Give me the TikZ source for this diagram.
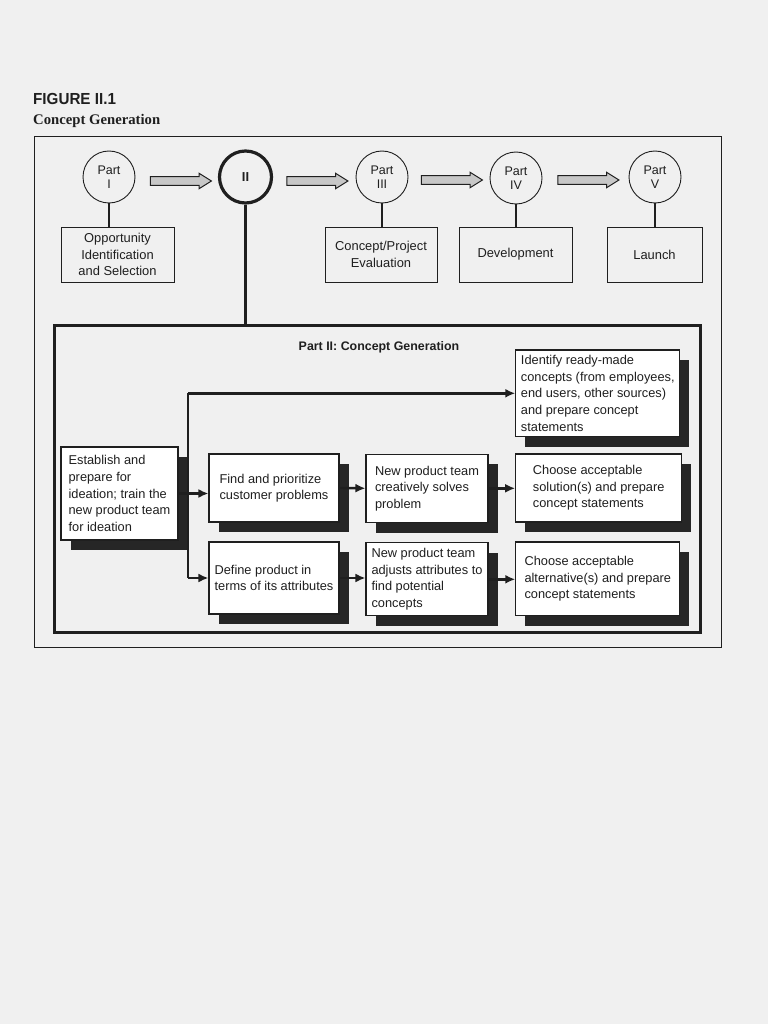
\documentclass[tikz,border=0pt]{standalone}
\usepackage{fontspec}
\setmainfont{Liberation Serif}
\setsansfont{Liberation Sans}
\usetikzlibrary{shapes.arrows,shadows,arrows.meta,calc}
\definecolor{ink}{gray}{0.12}
\begin{document}
\begin{tikzpicture}[x=1pt,y=-1pt,
  every node/.style={text=ink},
  part/.style={circle,draw=ink,line width=0.9pt,minimum size=52pt,inner sep=0pt,align=center,
     font=\sffamily\fontsize{12.5}{14.5}\selectfont},
  partbold/.style={part,line width=3.2pt,font=\sffamily\bfseries\fontsize{13}{14}\selectfont},
  topbox/.style={rectangle,draw=ink,line width=0.9pt,inner sep=0pt,align=center,
     font=\sffamily\fontsize{12.9}{16.3}\selectfont},
  stem/.style={draw=ink,line width=2.6pt},
  blockarr/.style={single arrow,draw=ink,line width=1pt,fill=black!22,inner sep=3.8pt,
     minimum height=61pt,single arrow head extend=3.4pt,single arrow tip angle=64,
     single arrow head indent=0pt},
  fbox/.style={rectangle,draw=ink,line width=1.1pt,fill=white,inner sep=0pt,align=left,
     font=\sffamily\fontsize{12.8}{16.6}\selectfont,
     general shadow={fill=black!85,shadow xshift=9.5pt,shadow yshift=-10pt}},
  conn/.style={draw=ink,line width=2.4pt},
  arr/.style={conn,-{Latex[length=10pt,width=9pt]}}]
\useasboundingbox[fill=black!6] (0,0) rectangle (768,1024);

% titles
\node[anchor=base west,inner sep=0pt,font=\sffamily\bfseries\fontsize{16}{16}\selectfont,xscale=0.95] (fig) at (33,105) {FIGURE II.1};
\node[anchor=base west,inner sep=0pt,font=\rmfamily\bfseries\fontsize{14.7}{16}\selectfont] (cg) at (33,125) {Concept Generation};

% outer frame
\node[draw=ink,line width=0.9pt,fill=none,minimum width=687pt,minimum height=511pt,inner sep=0pt] (outer) at (377.5,391.5) {};

% top row circles
\node[part] (p1) at (109,177) {Part\\I};
\node[partbold] (p2) at (245.5,177) {II};
\node[part] (p3) at (382,177) {Part\\III};
\node[part] (p4) at (516,178) {Part\\IV};
\node[part] (p5) at (655,177) {Part\\V};

% block arrows
\node[blockarr] (a1) at (177.5,181) {};
\node[blockarr] (a2) at (314,181) {};
\node[blockarr] (a3) at (448.5,180) {};
\node[blockarr] (a4) at (585,180) {};

% top boxes
\node[topbox,minimum width=113pt,minimum height=55pt] (o1) at (117.5,254.5) {Opportunity\\Identification\\and Selection};
\node[topbox,minimum width=112pt,minimum height=55pt] (o3) at (381,254.5) {Concept/Project\\Evaluation};
\node[topbox,minimum width=113pt,minimum height=55pt] (o4) at (515.5,254.5) {Development};
\node[topbox,minimum width=95pt,minimum height=55pt] (o5) at (654.5,254.5) {Launch};

\draw[stem] (p1.south) -- (p1.south |- o1.north);
\draw[stem] (p3.south) -- (p3.south |- o3.north);
\draw[stem] (p4.south) -- (p4.south |- o4.north);
\draw[stem] (p5.south) -- (p5.south |- o5.north);

% inner frame
\node[draw=ink,line width=3pt,minimum width=646pt,minimum height=307pt,inner sep=0pt] (inner) at (377,479) {};
\draw[stem,line width=2.8pt] (p2.south) -- (p2.south |- inner.north);
\node[anchor=base,inner sep=0pt,font=\sffamily\bfseries\fontsize{12.4}{14}\selectfont] (ptitle) at (379,350) {Part II: Concept Generation};

% flow boxes
\node[fbox,minimum width=117pt,minimum height=93pt] (est) at (119.5,493.5) {Establish and\\prepare for\\ideation; train the\\new product team\\for ideation};
\node[fbox,minimum width=130pt,minimum height=68pt] (find) at (274,488) {Find and prioritize\\customer problems};
\node[fbox,minimum width=130pt,minimum height=72pt] (def) at (274,578) {Define product in\\terms of its attributes};
\node[fbox,minimum width=122pt,minimum height=68.5pt] (cre) at (427,488.3) {New product team\\creatively solves\\problem};
\node[fbox,minimum width=122pt,minimum height=73pt] (adj) at (427,579.3) {New product team\\adjusts attributes to\\find potential\\concepts};
\node[fbox,minimum width=166pt,minimum height=68pt] (ch1) at (598.7,488) {Choose acceptable\\solution(s) and prepare\\concept statements};
\node[fbox,minimum width=164pt,minimum height=73.7pt] (ch2) at (597.8,578.8) {Choose acceptable\\alternative(s) and prepare\\concept statements};
\node[fbox,minimum width=164pt,minimum height=86.7pt] (idf) at (597.8,393.3) {Identify ready-made\\concepts (from employees,\\end users, other sources)\\and prepare concept\\statements};

% connectors
\coordinate (bt) at (188,393.3);
\coordinate (bb) at (188,578);
\draw[arr] (est.east) -- (est.east -| find.west);
\draw[conn] (bt) -- (bb);
\draw[arr] (bt) -- (idf.west);
\draw[arr] (bb) -- (def.west);
\draw[arr] (find.east) -- (cre.west);
\draw[arr] (cre.east) -- (cre.east -| ch1.west);
\draw[arr] (def.east) -- (def.east -| adj.west);
\draw[arr] (adj.east) -- (adj.east -| ch2.west);
\end{tikzpicture}
\end{document}
